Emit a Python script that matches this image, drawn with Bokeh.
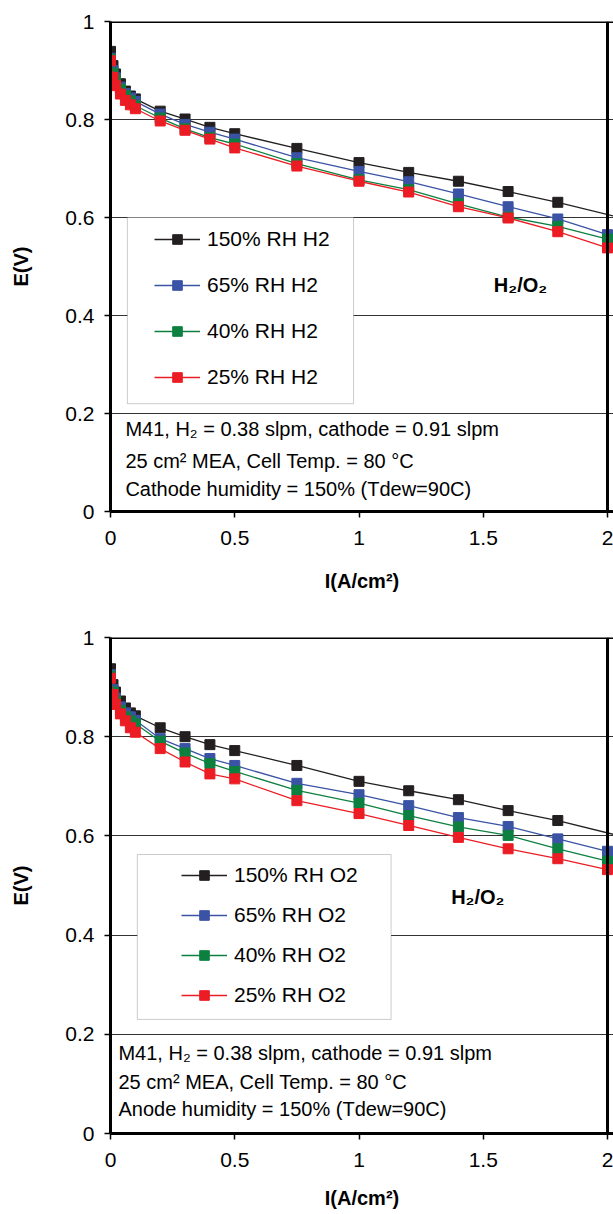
from bokeh.plotting import figure
from bokeh.layouts import column
from bokeh.models import FixedTicker, Span, BoxAnnotation, Legend, LegendItem, Label, Range1d
from bokeh.embed import file_html
from bokeh.resources import INLINE

# ---------------- data ----------------
I_BLACK = [0, 0.01, 0.02, 0.04, 0.06, 0.08, 0.1, 0.2, 0.3, 0.4, 0.5, 0.75, 1.0, 1.2, 1.4, 1.6, 1.8, 2.2]
I_OTHER = [0, 0.01, 0.02, 0.04, 0.06, 0.08, 0.1, 0.2, 0.3, 0.4, 0.5, 0.75, 1.0, 1.2, 1.4, 1.6, 1.8, 2.0]

# top chart (H2 humidity varied)
E_TOP_150 = [0.939, 0.910, 0.893, 0.873, 0.858, 0.848, 0.842, 0.817, 0.801, 0.784, 0.771, 0.741, 0.712, 0.692, 0.674, 0.653, 0.631, 0.581]
E_TOP_65 = [0.925, 0.900, 0.885, 0.866, 0.853, 0.844, 0.837, 0.811, 0.790, 0.774, 0.760, 0.722, 0.694, 0.673, 0.648, 0.622, 0.597, 0.565]
E_TOP_40 = [0.923, 0.895, 0.880, 0.862, 0.849, 0.838, 0.828, 0.803, 0.781, 0.763, 0.750, 0.710, 0.677, 0.657, 0.628, 0.601, 0.582, 0.556]
E_TOP_25 = [0.920, 0.886, 0.869, 0.852, 0.839, 0.830, 0.822, 0.797, 0.778, 0.760, 0.742, 0.705, 0.674, 0.652, 0.622, 0.599, 0.571, 0.538]

# bottom chart (O2 humidity varied)
E_BOT_150 = [0.937, 0.905, 0.890, 0.872, 0.858, 0.848, 0.842, 0.818, 0.800, 0.784, 0.772, 0.742, 0.710, 0.691, 0.673, 0.651, 0.631, 0.581]
E_BOT_65 = [0.925, 0.895, 0.878, 0.860, 0.848, 0.840, 0.833, 0.796, 0.776, 0.756, 0.742, 0.706, 0.683, 0.661, 0.637, 0.619, 0.594, 0.569]
E_BOT_40 = [0.922, 0.890, 0.872, 0.853, 0.840, 0.832, 0.826, 0.791, 0.767, 0.746, 0.730, 0.692, 0.666, 0.641, 0.618, 0.601, 0.574, 0.549]
E_BOT_25 = [0.918, 0.885, 0.865, 0.846, 0.832, 0.818, 0.809, 0.776, 0.749, 0.725, 0.715, 0.671, 0.645, 0.621, 0.597, 0.574, 0.554, 0.532]

LABELS_TOP = ["150% RH H2", "65% RH H2", "40% RH H2", "25% RH H2"]
LABELS_BOT = ["150% RH O2", "65% RH O2", "40% RH O2", "25% RH O2"]
COLORS = ["#231f20", "#3a53a4", "#0d8040", "#ec1c24"]

X_TICKS = [0, 0.5, 1, 1.5, 2]
X_TICK_LABELS = ["0", "0.5", "1", "1.5", "2"]
Y_TICKS = [0, 0.2, 0.4, 0.6, 0.8, 1]
Y_TICK_LABELS = ["0", "0.2", "0.4", "0.6", "0.8", "1"]

X_TITLE = "I(A/cm\u00b2)"
Y_TITLE = "E(V)"
TAG = "H\u2082/O\u2082"

NOTES_TOP = ["M41, H\u2082 = 0.38 slpm, cathode = 0.91 slpm",
             "25 cm\u00b2 MEA, Cell Temp. = 80 \u00b0C",
             "Cathode humidity = 150% (Tdew=90C)"]
NOTES_BOT = ["M41, H\u2082 = 0.38 slpm, cathode = 0.91 slpm",
             "25 cm\u00b2 MEA, Cell Temp. = 80 \u00b0C",
             "Anode humidity = 150% (Tdew=90C)"]

FONT = "Liberation Sans"


def make_fig(height, border_top, border_bottom, border_left, x_end, series, labels,
             legend_box, legend_loc, legend_spacing, tag_xy, notes, notes_x, notes_y,
             xlabel_standoff):
    p = figure(width=613, height=height, output_backend="svg", toolbar_location=None,
               x_range=Range1d(0, x_end), y_range=Range1d(0, 1),
               min_border_top=border_top, min_border_bottom=border_bottom,
               min_border_left=border_left, min_border_right=0)
    p.outline_line_color = None
    p.background_fill_color = "white"
    p.xgrid.grid_line_color = None
    p.ygrid.grid_line_color = "#333333"
    p.ygrid.grid_line_width = 1
    p.ygrid.ticker = FixedTicker(ticks=Y_TICKS)

    for ax in (p.xaxis[0], p.yaxis[0]):
        ax.axis_line_width = 3
        ax.axis_line_color = "black"
        ax.major_tick_out = 6
        ax.major_tick_in = 0
        ax.major_tick_line_width = 1.5
        ax.minor_tick_line_color = None
        ax.major_label_text_font = FONT
        ax.major_label_text_font_size = "21px"
        ax.major_label_text_color = "black"
        ax.axis_label_text_font = FONT
        ax.axis_label_text_font_size = "20px"
        ax.axis_label_text_font_style = "bold"
        ax.axis_label_text_color = "black"

    p.xaxis.ticker = FixedTicker(ticks=X_TICKS)
    p.xaxis.major_label_overrides = dict(zip(X_TICKS, X_TICK_LABELS))
    p.yaxis.ticker = FixedTicker(ticks=Y_TICKS)
    p.yaxis.major_label_overrides = dict(zip(Y_TICKS, Y_TICK_LABELS))
    p.xaxis.axis_label = X_TITLE
    p.yaxis.axis_label = Y_TITLE
    p.xaxis.major_label_standoff = 13
    p.yaxis.major_label_standoff = 10
    p.xaxis.axis_label_standoff = xlabel_standoff
    p.yaxis.axis_label_standoff = 30

    # right/top border lines
    p.add_layout(Span(location=2, dimension="height", line_color="black", line_width=3))
    p.add_layout(Span(location=1, dimension="width", line_color="black", line_width=3))

    items = []
    for (xs, ys), lab, col in zip(series, labels, COLORS):
        lr = p.line(xs, ys, line_color=col, line_width=1.3)
        sr = p.scatter(xs, ys, marker="square", size=10, fill_color=col, line_color=col)
        items.append(LegendItem(label=lab, renderers=[lr, sr]))

    l, r, b, t = legend_box
    p.add_layout(BoxAnnotation(left=l, right=r, bottom=b, top=t, fill_color="white",
                               fill_alpha=1, line_color="#555555", line_width=1))

    legend = Legend(items=items, location=legend_loc, padding=0, margin=0,
                    border_line_color=None, background_fill_alpha=0,
                    label_text_font=FONT, label_text_font_size="21px",
                    label_text_color="black",
                    glyph_width=46, glyph_height=24, label_height=24,
                    label_standoff=7, spacing=legend_spacing)
    p.add_layout(legend)

    p.add_layout(Label(x=tag_xy[0], y=tag_xy[1], text=TAG, text_align="center",
                       text_baseline="middle", text_font=FONT, text_font_size="20px",
                       text_font_style="bold", text_color="black"))
    for txt, yy in zip(notes, notes_y):
        p.add_layout(Label(x=notes_x, y=yy, text=txt, text_align="left", text_baseline="middle",
                           text_font=FONT, text_font_size="20px", text_color="black"))
    return p


p1 = make_fig(611, 21, 100, 110, 2 + 6 / 248.5,
              [(I_BLACK, E_TOP_150), (I_OTHER, E_TOP_65), (I_OTHER, E_TOP_40), (I_OTHER, E_TOP_25)],
              LABELS_TOP, (0.068, 0.978, 0.220, 0.600), (44, 122), 22,
              (1.65, 0.463), NOTES_TOP, 0.06, [0.169, 0.104, 0.045], 22)
p2 = make_fig(600, 26, 78, 109, 2 + 6 / 249.0,
              [(I_BLACK, E_BOT_150), (I_OTHER, E_BOT_65), (I_OTHER, E_BOT_40), (I_OTHER, E_BOT_25)],
              LABELS_BOT, (0.108, 1.129, 0.230, 0.5625), (71, 126), 16,
              (1.478, 0.476), NOTES_BOT, 0.032, [0.163, 0.103, 0.050], 17)

layout = column(p1, p2, spacing=0)
open("out.html", "w").write(file_html(layout, INLINE))
